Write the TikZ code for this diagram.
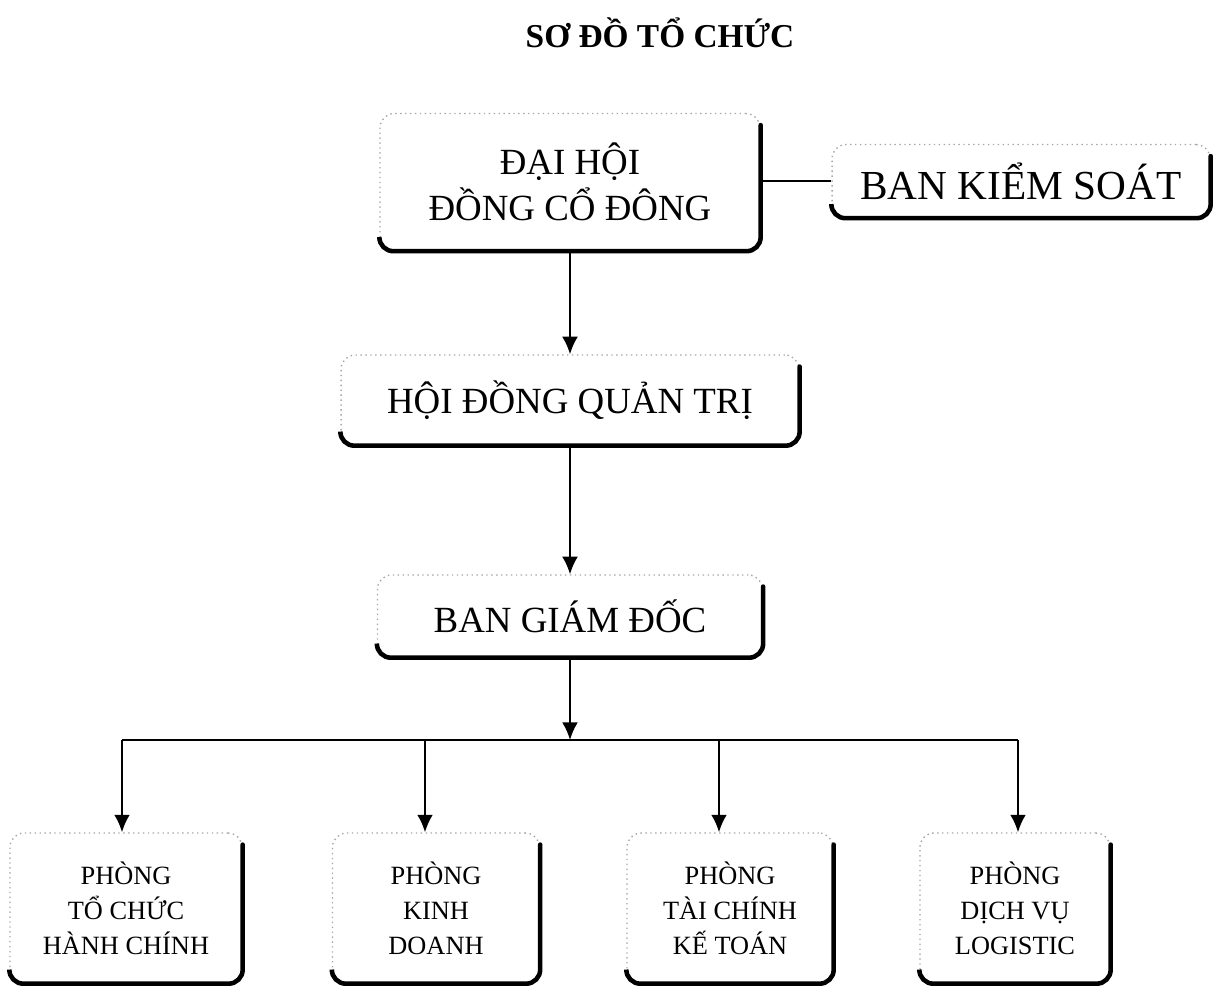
\documentclass[tikz,border=0pt]{standalone}
\usepackage{fontspec}
\setmainfont{Liberation Serif}
\usepackage{tikz}
\usetikzlibrary{arrows.meta}

\begin{document}
\begin{tikzpicture}[x=0.02cm, y=-0.02cm,
    box/.style = {draw=gray!70, line width=0.8pt, dotted, rounded corners=8pt, align=center, inner sep=2pt},
    bigbox/.style = {box, font=\fontsize{21}{26}\selectfont},
    smallbox/.style = {box, font=\fontsize{15}{20}\selectfont, minimum height=3cm},
    boxshadow/.style = {line width=2.6pt, rounded corners=8pt, line cap=round},
    link/.style = {line width=1.2pt},
    arr/.style = {link, -{Latex[length=10pt, width=9pt]}}]
    \useasboundingbox (0,0) rectangle (1217,985);
    \node (title) at (660,33) {\fontsize{19}{23}\selectfont\bfseries SƠ ĐỒ TỔ CHỨC};
    % upper part
    \node[bigbox, minimum width=7.6cm, minimum height=2.74cm] (dhdcd) at (570,182) {ĐẠI HỘI\\ĐỒNG CỔ ĐÔNG};
    \node[bigbox, font=\fontsize{23.5}{28}\selectfont, minimum width=7.56cm, minimum height=1.46cm] (bks) at (1021,181) {BAN KIỂM SOÁT};
    \node[bigbox, minimum width=9.16cm, minimum height=1.8cm] (hdqt) at (570,400) {HỘI ĐỒNG QUẢN TRỊ};
    \node[bigbox, minimum width=7.7cm, minimum height=1.64cm] (bgd) at (570,616) {BAN GIÁM ĐỐC};
    % phong ban
    \node[smallbox, minimum width=4.64cm] (p1) at (126,908) {PHÒNG\\TỔ CHỨC\\HÀNH CHÍNH};
    \node[smallbox, minimum width=4.14cm] (p2) at (436,908) {PHÒNG\\KINH\\DOANH};
    \node[smallbox, minimum width=4.12cm] (p3) at (730,908) {PHÒNG\\TÀI CHÍNH\\KẾ TOÁN};
    \node[smallbox, minimum width=3.8cm] (p4) at (1015,908) {PHÒNG\\DỊCH VỤ\\LOGISTIC};
    \foreach \b in {dhdcd,bks,hdqt,bgd,p1,p2,p3,p4}
        \draw[boxshadow] ([yshift=-7pt]\b.north east) -- (\b.south east) -- (\b.south west) -- ([yshift=7pt]\b.south west);
    \coordinate (bus) at (570,740);
    \draw[link] (dhdcd.east |- bks) -- (bks.west);
    \draw[arr] (dhdcd.south) -- (hdqt.north);
    \draw[arr] (hdqt.south) -- (bgd.north);
    \draw[arr] (bgd.south) -- (bus);
    \draw[link] ([xshift=-0.08cm]p1 |- bus) -- ([xshift=0.06cm]p4 |- bus);
    \foreach \p/\dx in {p1/-0.08cm,p2/-0.22cm,p3/-0.22cm,p4/0.06cm}
        \draw[arr] ([xshift=\dx]\p |- bus) -- ([xshift=\dx]\p.north);
\end{tikzpicture}
\end{document}
